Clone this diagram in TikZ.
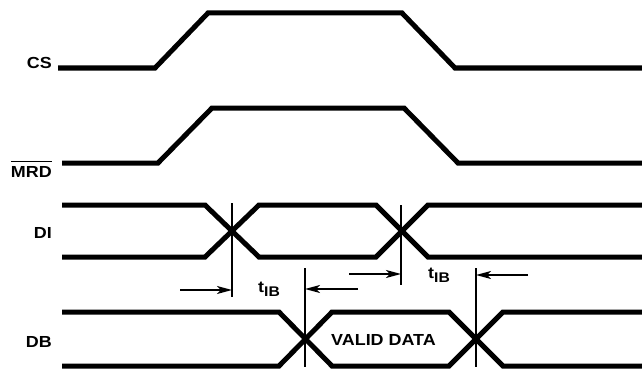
\documentclass[tikz,border=0pt]{standalone}
\usepackage{fontspec}
\setmainfont[FakeStretch=1.12]{Liberation Sans}
\usetikzlibrary{arrows.meta}

\begin{document}
\begin{tikzpicture}[x=1pt, y=-1pt,
		trace/.style={line width=5pt},
		cursor/.style={line width=1.5pt},
		gaparrow/.style={line width=1.4pt, -{Stealth[length=15pt, width=8pt, inset=4pt]}},
		siglabel/.style={anchor=base east, inner sep=0pt, font=\fontsize{16}{19}\selectfont\bfseries},
		tlabel/.style={anchor=base west, inner sep=0pt, font=\fontsize{16}{19}\selectfont\bfseries}]
			%%%%% START %%%%%
			\useasboundingbox (0, 0) rectangle (642, 369);
			
			\node[siglabel] (cs) at (52, 69) {CS};
			\node[siglabel] (mrd) at (52, 177) {MRD};
			\draw[line width=1.2pt] ([yshift=4pt]mrd.north west) -- ([yshift=4pt]mrd.north east);
			\node[siglabel] (di) at (52, 238) {DI};
			\node[siglabel] (db) at (52, 347) {DB};
			
			\draw[trace] (58, 68) -- (155, 68) -- (208, 13) -- (402, 13) -- (455, 68) -- (642, 68);
			
			\draw[trace] (62, 163) -- (158, 163) -- (212, 108) -- (404, 108) -- (458, 163) -- (642, 163);
			
			\draw[trace] (62, 205) -- (205, 205) -- (259, 257) -- (376, 257) -- (428, 205) -- (642, 205);
			\draw[trace] (62, 257) -- (205, 257) -- (259, 205) -- (376, 205) -- (428, 257) -- (642, 257);
			
			\draw[trace] (62, 312) -- (279, 312) -- (332, 366) -- (449, 366) -- (503, 312) -- (642, 312);
			\draw[trace] (62, 366) -- (279, 366) -- (332, 312) -- (449, 312) -- (503, 366) -- (642, 366);
			\node[siglabel, anchor=base] (valid) at (383.5, 345) {VALID DATA};
			
			\coordinate (c1top) at (232, 203);
			\coordinate (c1bot) at (232, 297);
			\coordinate (c2top) at (305, 268);
			\coordinate (c2bot) at (305, 367);
			\coordinate (c3top) at (401, 205);
			\coordinate (c3bot) at (401, 285);
			\coordinate (c4top) at (476, 268);
			\coordinate (c4bot) at (476, 367);
			\draw[cursor] (c1top) -- (c1bot);
			\draw[cursor] (c2top) -- (c2bot);
			\draw[cursor] (c3top) -- (c3bot);
			\draw[cursor] (c4top) -- (c4bot);
			
			\coordinate (a1) at (180, 290);
			\coordinate (a2) at (358, 289);
			\coordinate (a3) at (349, 274);
			\coordinate (a4) at (528, 275);
			\draw[gaparrow] (a1) -- (c1top |- a1);
			\draw[gaparrow] (a2) -- (c2top |- a2);
			\draw[gaparrow] (a3) -- (c3top |- a3);
			\draw[gaparrow] (a4) -- (c4top |- a4);
			
			\node[tlabel] (tib1) at (258, 292) {t\raisebox{-4pt}{\fontsize{14}{16}\selectfont IB}};
			\node[tlabel] (tib2) at (428, 278) {t\raisebox{-4pt}{\fontsize{14}{16}\selectfont IB}};
			
			%%%%% END %%%%%
		\end{tikzpicture}
\end{document}
